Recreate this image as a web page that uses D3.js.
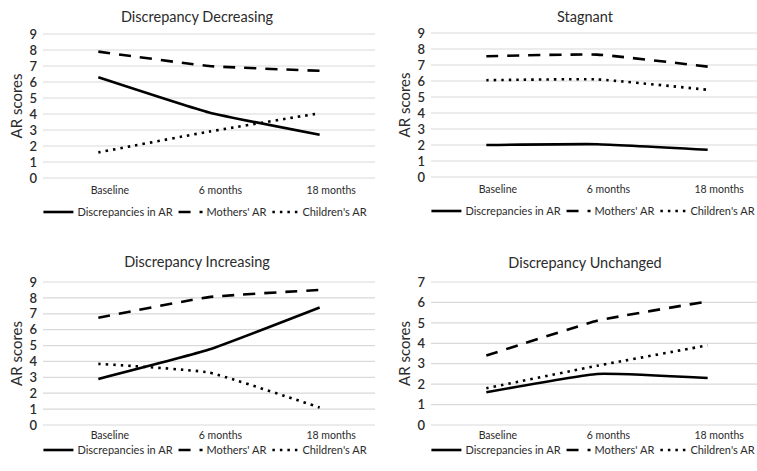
<!DOCTYPE html>
<html>
<head>
<meta charset="utf-8">
<script src="https://cdn.jsdelivr.net/npm/d3@7"></script>
<style>
  html, body { margin: 0; padding: 0; background: #fff; }
  svg { display: block; font-family: Lato, "Open Sans", sans-serif; }
</style>
</head>
<body>
<svg id="chart" width="757" height="471"></svg>
<script>
// ---- data ----
const categories = ["Baseline", "6 months", "18 months"];
const seriesNames = ["Discrepancies in AR", "Mothers' AR", "Children's AR"];
const panelTitles = ["Discrepancy Decreasing", "Stagnant", "Discrepancy Increasing", "Discrepancy Unchanged"];
const yMaxes = [9, 9, 9, 7];

const decDisc  = [6.3, 4.1, 2.7];
const decMoth  = [7.9, 7.0, 6.7];
const decChild = [1.6, 2.9, 4.05];

const stagDisc  = [2.0, 2.05, 1.7];
const stagMoth  = [7.55, 7.65, 6.9];
const stagChild = [6.05, 6.1, 5.45];

const incDisc  = [2.9, 4.75, 7.4];
const incMoth  = [6.75, 8.05, 8.5];
const incChild = [3.85, 3.3, 1.1];

const uncDisc  = [1.6, 2.5, 2.3];
const uncMoth  = [3.4, 5.1, 6.05];
const uncChild = [1.8, 2.9, 3.9];

const panelData = [
  [decDisc, decMoth, decChild],
  [stagDisc, stagMoth, stagChild],
  [incDisc, incMoth, incChild],
  [uncDisc, uncMoth, uncChild]
];

// ---- layout ----
const layouts = [
  { left: 43,  top: 34,  bottom: 178, titleY: 22,  labelY: 195, legendY: 212 },
  { left: 431, top: 33,  bottom: 177, titleY: 22,  labelY: 194, legendY: 211 },
  { left: 43,  top: 282, bottom: 425, titleY: 267, labelY: 440, legendY: 450 },
  { left: 431, top: 282, bottom: 425, titleY: 268, labelY: 440, legendY: 450 }
];
const plotW = 332;
const styles = [
  { dash: null },
  { dash: "12,9" },
  { dash: "2.5,5" }
];
const textColor = "#2b2b2b";

const svg = d3.select("#chart");

panelTitles.forEach((title, i) => {
  const L = layouts[i];
  const g = svg.append("g");
  const x = d3.scalePoint().domain(categories).range([L.left, L.left + plotW]).padding(0.5);
  const y = d3.scaleLinear().domain([0, yMaxes[i]]).range([L.bottom, L.top]);

  // grid
  const ticks = d3.range(0, yMaxes[i] + 1);
  g.selectAll("line.grid").data(ticks).join("line")
    .attr("x1", L.left).attr("x2", L.left + plotW)
    .attr("y1", d => y(d)).attr("y2", d => y(d))
    .attr("stroke", "#d9d9d9").attr("stroke-width", 1.2);

  // y tick labels
  const yAxis = d3.axisLeft(y).tickValues(ticks).tickSize(0).tickPadding(6).tickFormat(d3.format("d"));
  const ya = g.append("g").attr("transform", `translate(${L.left},0)`).call(yAxis);
  ya.select(".domain").remove();
  ya.selectAll("text").attr("font-size", 13).attr("font-weight", 600)
    .attr("fill", textColor).attr("font-family", "Lato, sans-serif");

  // x labels
  const xAxis = d3.axisBottom(x).tickSize(0).tickPadding(0);
  const xa = g.append("g").attr("transform", `translate(11,${L.labelY - 8})`).call(xAxis);
  xa.select(".domain").remove();
  xa.selectAll("text").attr("font-size", 10.5).attr("fill", textColor).attr("font-family", "Lato, sans-serif");

  // y title
  g.append("text")
    .attr("transform", `translate(${L.left - 21},${(L.top + L.bottom) / 2}) rotate(-90)`)
    .attr("text-anchor", "middle")
    .attr("font-size", 15).attr("fill", textColor)
    .text("AR scores");

  // title
  g.append("text")
    .attr("x", L.left + 154).attr("y", L.titleY)
    .attr("text-anchor", "middle")
    .attr("font-size", 14.5).attr("fill", textColor)
    .text(title);

  // lines
  const line = d3.line()
    .x((d, j) => x(categories[j]))
    .y(d => y(d))
    .curve(d3.curveCardinal.tension(0.6));
  panelData[i].forEach((vals, s) => {
    g.append("path")
      .attr("d", line(vals))
      .attr("fill", "none")
      .attr("stroke", "#000")
      .attr("stroke-width", 2.6)
      .attr("stroke-dasharray", styles[s].dash);
  });

  // legend
  const lg = g.append("g");
  let cx = 0;
  const sampleW = [30, 24, 26];
  seriesNames.forEach((name, s) => {
    const it = lg.append("g");
    it.append("line")
      .attr("x1", cx).attr("x2", cx + sampleW[s]).attr("y1", 0).attr("y2", 0)
      .attr("stroke", "#000").attr("stroke-width", 2.6)
      .attr("stroke-dasharray", styles[s].dash);
    cx += sampleW[s] + 4;
    const t = it.append("text").attr("x", cx).attr("y", 4)
      .attr("font-size", 11).attr("fill", textColor).text(name);
    cx += t.node().getComputedTextLength() + 6;
  });
  const totalW = cx - 6;
  const legendCenter = L.left + 162;
  lg.attr("transform", `translate(${legendCenter - totalW / 2},${L.legendY})`);
});
</script>
</body>
</html>
